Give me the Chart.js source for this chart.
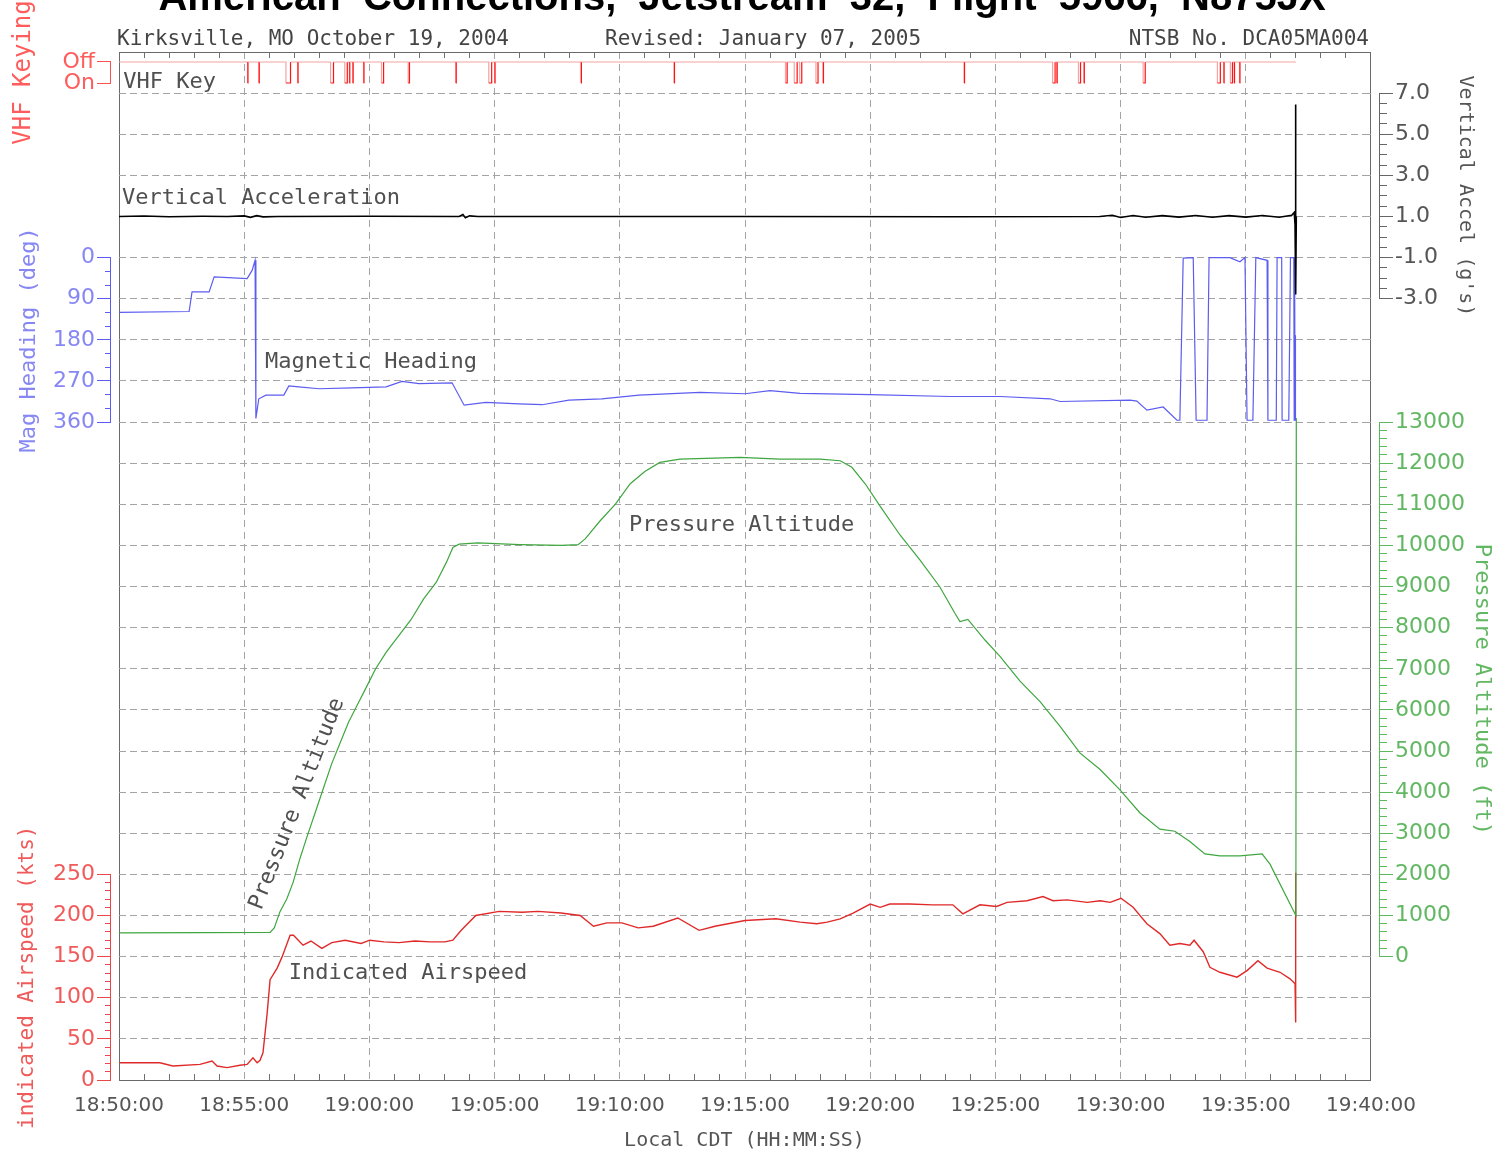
<!DOCTYPE html>
<html>
<head>
<meta charset="utf-8">
<title>Jetstream 32 flight data</title>
<script src="https://cdn.jsdelivr.net/npm/chart.js@4.4.1/dist/chart.umd.min.js"></script>
<style>
  html, body { margin: 0; padding: 0; background: #fff; }
  #wrap { width: 1501px; height: 1155px; }
</style>
</head>
<body>
<div id="wrap"><canvas id="fdr" width="1501" height="1155"></canvas></div>
<script>
// time is seconds after 18:50:00 CDT
const START_CLOCK = 18 * 3600 + 50 * 60;
const END_SEC = 3000;

// VHF key-on intervals [on, off]
const vhfKeyed = [[308,309],[335,336],[400,411],[428,429],[507,514],[541,547],[552,553],[560,561],
  [586,587],[629,634],[693,696],[807,808],[886,893],[900,901],[1107,1108],[1330,1331],[1597,1601],
  [1618,1625],[1631,1636],[1670,1675],[1687,1688],[2025,2026],[2237,2243],[2247,2248],[2299,2304],
  [2312,2313],[2454,2459],[2632,2639],[2647,2648],[2663,2668],[2672,2673],[2685,2686]];
const vhfEnd = 2820;

// vertical acceleration (g)
const accel = [[0,1.0],[60,1.02],[120,0.99],[200,1.01],[260,1.0],[300,1.03],[315,0.96],[330,1.04],
  [345,0.98],[380,1.0],[600,1.01],[815,1.0],[824,1.1],[830,0.94],[840,1.03],[860,1.0],[1500,1.0],
  [2000,0.99],[2350,1.0],[2380,1.06],[2400,0.95],[2430,1.05],[2460,0.96],[2500,1.04],[2540,0.97],
  [2580,1.05],[2620,0.96],[2660,1.04],[2700,0.97],[2740,1.05],[2780,0.96],[2810,1.06],[2816,1.2],
  [2818,0.6],[2819,6.45],[2820,-2.8],[2821,1.0]];

// magnetic heading (deg)
const heading = [[0,120],[168,118],[175,75],[216,75],[228,42],[307,46],[319,28],[326,6],[328,352],
  [335,309],[352,301],[395,301],[407,281],[431,283],[479,287],[558,285],[640,283],[678,271],[719,276],
  [798,274],[827,323],[879,317],[958,320],[1014,322],[1078,312],[1157,309],[1246,301],[1392,295],
  [1500,298],[1560,291],[1632,297],[1800,300],[1991,304],[2111,304],[2231,309],[2255,315],[2423,312],
  [2439,314],[2463,334],[2502,327],[2535,356],[2542,356],[2550,1],[2574,0],[2581,356],[2607,356],
  [2612,0],[2662,0],[2686,9],[2698,0],[2703,356],[2717,356],[2724,0],[2751,6],[2753,356],[2773,356],
  [2775,0],[2786,0],[2787,356],[2803,356],[2807,0],[2815,0],[2816,356],[2817,0],[2818,356],[2819,170]];

// pressure altitude (ft)
const altitude = [[0,580],[190,585],[362,590],[372,700],[386,1100],[402,1400],[417,1800],[434,2400],
  [450,2900],[470,3500],[490,4100],[510,4700],[530,5200],[550,5700],[570,6100],[590,6500],[615,7000],
  [640,7400],[670,7800],[700,8200],[730,8700],[760,9100],[785,9600],[800,9950],[815,10030],[860,10060],
  [960,10020],[1060,10000],[1100,10020],[1117,10160],[1153,10600],[1189,11000],[1225,11500],
  [1260,11800],[1296,12020],[1344,12100],[1488,12140],[1584,12100],[1680,12100],[1728,12060],
  [1756,11900],[1788,11500],[1824,10950],[1871,10260],[1919,9650],[1967,8990],[2003,8350],[2015,8150],
  [2034,8200],[2075,7700],[2111,7300],[2159,6700],[2207,6200],[2255,5600],[2303,4950],[2351,4550],
  [2399,4050],[2446,3500],[2494,3100],[2530,3050],[2566,2800],[2602,2500],[2638,2450],[2686,2450],
  [2739,2500],[2758,2250],[2820,1000],[2821,13100]];

// indicated airspeed (kts)
const airspeed = [[2,21],[50,21],[98,21],[129,17],[194,19],[223,23],[235,17],[259,15],[290,18],[307,19],
  [321,27],[331,21],[338,24],[345,33],[355,81],[362,122],[379,136],[391,150],[410,176],[418,176],
  [441,164],[460,169],[486,160],[510,167],[542,170],[580,166],[601,170],[635,168],[671,167],[709,169],
  [745,168],[781,168],[800,170],[820,182],[855,200],[911,205],[966,204],[1004,205],[1059,203],
  [1105,200],[1137,187],[1169,191],[1205,191],[1244,185],[1280,187],[1339,197],[1390,182],[1428,187],
  [1500,194],[1574,196],[1632,192],[1672,190],[1697,192],[1728,196],[1759,203],[1800,214],[1824,210],
  [1847,214],[1895,214],[1950,213],[1998,213],[2022,202],[2063,213],[2103,211],[2128,216],[2176,218],
  [2214,223],[2238,218],[2272,219],[2320,216],[2351,218],[2375,216],[2401,221],[2430,210],[2463,190],
  [2494,178],[2518,164],[2542,166],[2566,164],[2576,170],[2598,156],[2614,137],[2638,131],[2679,125],
  [2703,133],[2729,145],[2751,136],[2782,131],[2806,123],[2818,117],[2819,70],[2820,252]];

const RED = '#ee2a2a', BLUE = '#5c5cf0', GREEN = '#3fa63f';
const MONO = '"DejaVu Sans Mono", monospace';
const SANS = '"DejaVu Sans", sans-serif';

const pts = arr => arr.map(p => ({ x: p[0], y: p[1] }));

function vhfPoints() {
  const out = [{ x: 0, y: 1 }];
  vhfKeyed.forEach(([on, off]) => { out.push({ x: on, y: 0 }, { x: off, y: 1 }); });
  out.push({ x: vhfEnd, y: 1 });
  return out;
}

function steps(min, max, step) {
  const a = [];
  const n = Math.round((max - min) / step);
  for (let i = 0; i <= n; i++) a.push(min + i * step);
  return a;
}

function clock(sec) {
  const t = START_CLOCK + sec;
  return [Math.floor(t / 3600), Math.floor(t % 3600 / 60), t % 60]
    .map(n => String(n).padStart(2, '0')).join(':');
}

// horizontal grid dashes, kept inside the plot frame
function hDash(chart, solid) {
  const x = chart.scales.x, area = chart.chartArea;
  const lead = x.getPixelForValue(0) - area.left;
  const span = x.getPixelForValue(END_SEC) - x.getPixelForValue(0);
  if (solid) return [0, lead, span, 3000];
  const d = [0, lead];
  let used = 0;
  while (used + 11 <= span) { d.push(7, 4); used += 11; }
  d.push(Math.max(span - used, 0), 3000);
  return d;
}

function filler(side, rows, order) {
  return {
    type: 'linear', position: side, stack: side, stackWeight: rows, weight: order,
    ticks: { display: false }, grid: { display: false }, border: { display: false },
    afterFit: s => { s.width = side === 'left' ? 110 : 122; }
  };
}

function sideAxis(o) {
  const left = o.side === 'left';
  const tl = left ? 13 : 14;
  return {
    type: 'linear', position: o.side, stack: o.side, stackWeight: o.rows, weight: o.order,
    min: o.min, max: o.max, reverse: !!o.reverse,
    afterBuildTicks: s => { s.ticks = o.ticks.map(v => ({ value: v })); },
    afterFit: s => { s.width = left ? 110 : 122; },
    ticks: {
      autoSkip: false, padding: 2, color: o.labelColor,
      font: { family: SANS, size: 22 },
      callback: v => o.label(v)
    },
    grid: {
      drawOnChartArea: false, tickLength: tl, color: o.color, tickColor: o.color,
      tickBorderDash: c => (c.tick && o.label(c.tick.value) === '')
        ? (left ? [0, tl - 5, 5, 100] : [7, 100]) : []
    },
    border: { color: o.color, width: 1 },
    title: {
      display: true, text: o.title, color: o.labelColor,
      font: { family: MONO, size: o.titleSize }, padding: { top: o.titlePad, bottom: o.titlePad }
    }
  };
}

const textPlugin = {
  id: 'fdrText',
  afterDraw(chart) {
    const { ctx, scales } = chart;
    const x = scales.x;
    ctx.save();
    ctx.fillStyle = '#000';
    ctx.font = 'bold 40px "Liberation Sans", Arial, sans-serif';
    ctx.textAlign = 'center';
    ctx.textBaseline = 'alphabetic';
    ctx.fillText('American  Connections,  Jetstream  32,  Flight  5966,  N875JX', 742, 10);

    ctx.fillStyle = '#444';
    ctx.font = '21px ' + MONO;
    ctx.textAlign = 'left';
    ctx.fillText('Kirksville, MO October 19, 2004', 117, 45);
    ctx.fillText('Revised: January 07, 2005', 605, 45);
    ctx.textAlign = 'right';
    ctx.fillText('NTSB No. DCA05MA004', 1369, 45);

    ctx.fillStyle = '#505050';
    ctx.font = '22px ' + MONO;
    ctx.textAlign = 'left';
    const notes = [
      ['VHF Key', 10, 'vhf', -0.25],
      ['Vertical Acceleration', 7, 'accel', 1.61],
      ['Magnetic Heading', 350, 'heading', 242],
      ['Pressure Altitude', 1222, 'alt', 10355],
      ['Indicated Airspeed', 407, 'kts', 123]
    ];
    notes.forEach(([txt, t, axis, v]) => {
      ctx.fillText(txt, x.getPixelForValue(t), scales[axis].getPixelForValue(v));
    });
    ctx.translate(x.getPixelForValue(427), scales.alt.getPixelForValue(3716));
    ctx.rotate(-68.5 * Math.PI / 180);
    ctx.textAlign = 'center';
    ctx.textBaseline = 'middle';
    ctx.fillText('Pressure Altitude', 0, 0);
    ctx.restore();
  }
};

new Chart(document.getElementById('fdr'), {
  type: 'line',
  data: {
    datasets: [
      { label: 'VHF Key', data: vhfPoints(), yAxisID: 'vhf', stepped: true, borderWidth: 1.2,
        borderColor: RED,
        segment: { borderColor: c => c.p0.parsed.y === 1 ? '#f6a3a3' : '#ff1414' } },
      { label: 'Vertical Acceleration', data: pts(accel), yAxisID: 'accel', borderColor: '#000', borderWidth: 1.6 },
      { label: 'Magnetic Heading', data: pts(heading), yAxisID: 'heading', borderColor: BLUE, borderWidth: 1.2 },
      { label: 'Pressure Altitude', data: pts(altitude), yAxisID: 'alt', borderColor: GREEN, borderWidth: 1.2 },
      { label: 'Indicated Airspeed', data: pts(airspeed), yAxisID: 'kts', borderColor: '#e02a2a', borderWidth: 1.4 }
    ]
  },
  options: {
    responsive: false,
    animation: false,
    devicePixelRatio: 1,
    layout: { padding: { top: 52, left: 0, right: 0, bottom: 0 } },
    elements: { point: { radius: 0 }, line: { tension: 0 } },
    datasets: { line: { clip: false } },
    plugins: { legend: { display: false }, tooltip: { enabled: false } },
    scales: {
      x: {
        type: 'linear', position: 'bottom', min: -21.57, max: 3019.17,
        afterBuildTicks: s => { s.ticks = steps(0, END_SEC, 60).map(v => ({ value: v })); },
        afterFit: s => { s.height = 75; },
        ticks: {
          autoSkip: false, maxRotation: 0, minRotation: 0, padding: 14, color: '#555',
          font: { family: SANS, size: 20 },
          callback: v => v % 300 === 0 ? clock(v) : ''
        },
        grid: {
          drawTicks: false, lineWidth: 1,
          color: c => {
            const v = c.tick ? c.tick.value : 0;
            if (v === 0 || v === END_SEC) return '#6a6a6a';
            return v % 300 === 0 ? '#a4a4a4' : '#707070';
          }
        },
        border: {
          display: false,
          dash: c => {
            if (!c.tick) return [];
            const v = c.tick.value;
            if (v === 0 || v === END_SEC) return [];
            if (v % 300 === 0) return [7, 5];
            const h = c.chart.chartArea.bottom - c.chart.chartArea.top;
            return [6, h - 12, 6, 3000];
          }
        },
        title: {
          display: true, text: 'Local CDT (HH:MM:SS)', color: '#555',
          font: { family: MONO, size: 20 }, padding: { top: 0, bottom: 2 }
        }
      },
      gridY: {
        type: 'linear', position: 'right', min: 0, max: 25,
        afterBuildTicks: s => { s.ticks = steps(0, 25, 1).map(v => ({ value: v })); },
        afterFit: s => { s.width = 0; },
        ticks: { display: false },
        grid: {
          drawTicks: false, lineWidth: 1,
          color: c => (c.tick && (c.tick.value === 0 || c.tick.value === 25)) ? '#6a6a6a' : '#a4a4a4'
        },
        border: {
          display: false,
          dash: c => c.tick ? hDash(c.chart, c.tick.value === 0 || c.tick.value === 25) : []
        }
      },

      // left column, top to bottom
      fillA: filler('left', 0.243, 6),
      vhf: sideAxis({
        side: 'left', rows: 0.511, order: 5, min: 0, max: 1, ticks: [0, 1],
        color: '#ff5050', labelColor: '#ff5c5c', title: 'VHF Keying', titlePad: 9, titleSize: 24,
        label: v => v === 1 ? 'Off' : 'On'
      }),
      fillB: filler('left', 4.246, 4),
      heading: sideAxis({
        side: 'left', rows: 4, order: 3, min: 0, max: 360, reverse: true, ticks: steps(0, 360, 30),
        color: BLUE, labelColor: '#8787f4', title: 'Mag Heading (deg)', titlePad: 16, titleSize: 22,
        label: v => v % 90 === 0 ? String(v) : ''
      }),
      fillC: filler('left', 11, 2),
      kts: sideAxis({
        side: 'left', rows: 5, order: 1, min: 0, max: 250, ticks: steps(0, 250, 10),
        color: '#e84848', labelColor: '#f05a5a', title: 'indicated Airspeed (kts)', titlePad: 15, titleSize: 21,
        label: v => v % 50 === 0 ? String(v) : ''
      }),

      // right column, top to bottom
      fillD: filler('right', 1, 1),
      accel: sideAxis({
        side: 'right', rows: 5, order: 2, min: -3, max: 7, ticks: steps(-3, 7, 0.5),
        color: '#666', labelColor: '#555', title: "Vertical Accel (g's)", titlePad: 24, titleSize: 20,
        label: v => (Math.abs(v) % 2 === 1) ? v.toFixed(1) : ''
      }),
      fillE: filler('right', 3, 3),
      alt: sideAxis({
        side: 'right', rows: 13, order: 4, min: 0, max: 13000, ticks: steps(0, 13000, 200),
        color: '#5cb85c', labelColor: '#62b862', title: 'Pressure Altitude (ft)', titlePad: 6, titleSize: 22,
        label: v => v % 1000 === 0 ? String(v) : ''
      }),
      fillF: filler('right', 3, 5)
    }
  },
  plugins: [textPlugin]
});
</script>
</body>
</html>
